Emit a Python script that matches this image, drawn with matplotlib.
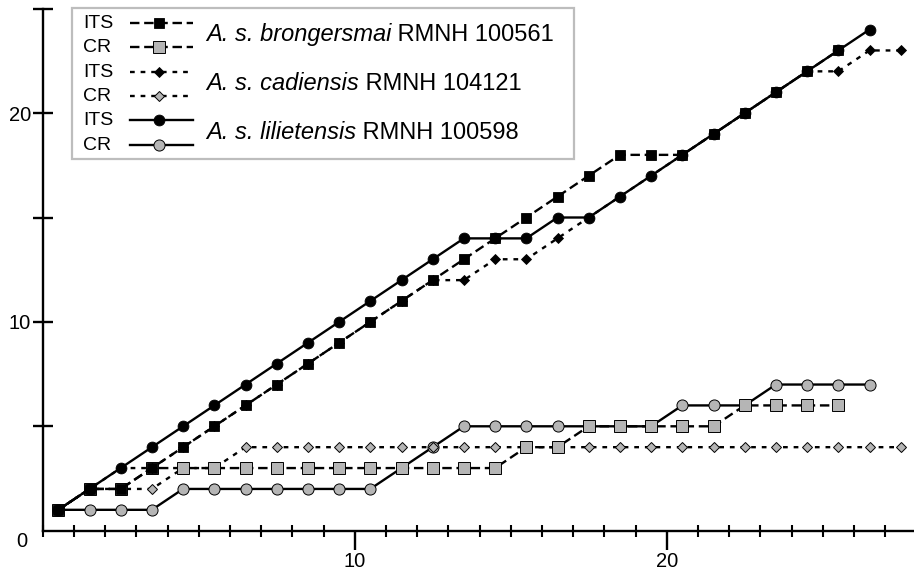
import matplotlib
matplotlib.use("Agg")
import matplotlib.pyplot as plt
from matplotlib.lines import Line2D
from matplotlib.patches import Rectangle
from matplotlib.transforms import ScaledTranslation

plt.rcParams["font.family"] = ["Liberation Sans", "DejaVu Sans"]

# values at positions 1..N (plotted at k - 0.5)
its_brongersmai = [1, 2, 2, 3, 4, 5, 6, 7, 8, 9, 10, 11, 12, 13, 14, 15, 16, 17, 18, 18, 18, 19, 20, 21, 22, 23]
cr_brongersmai = [1, 2, 2, 3, 3, 3, 3, 3, 3, 3, 3, 3, 3, 3, 3, 4, 4, 5, 5, 5, 5, 5, 6, 6, 6, 6]
its_cadiensis = [1, 2, 3, 3, 4, 5, 6, 7, 8, 9, 10, 11, 12, 12, 13, 13, 14, 15, 16, 17, 18, 19, 20, 21, 22, 22, 23, 23]
cr_cadiensis = [1, 2, 2, 2, 3, 3, 4, 4, 4, 4, 4, 4, 4, 4, 4, 4, 4, 4, 4, 4, 4, 4, 4, 4, 4, 4, 4, 4]
its_lilietensis = [1, 2, 3, 4, 5, 6, 7, 8, 9, 10, 11, 12, 13, 14, 14, 14, 15, 15, 16, 17, 18, 19, 20, 21, 22, 23, 24]
cr_lilietensis = [1, 1, 1, 1, 2, 2, 2, 2, 2, 2, 2, 3, 4, 5, 5, 5, 5, 5, 5, 5, 6, 6, 6, 7, 7, 7, 7]

species = [("A. s. brongersmai", " RMNH 100561"),
           ("A. s. cadiensis", " RMNH 104121"),
           ("A. s. lilietensis", " RMNH 100598")]

W, H = 914, 571
GRAY = "#b5b5b5"
DASH = (0, (4, 2))
DOT = (0, (2, 2.5))
LW = 1.7

styles = {
    "its_lil": dict(ls="-", marker="o", ms=7.8, mfc="k", mec="k", mew=0.6),
    "cr_lil": dict(ls="-", marker="o", ms=8.0, mfc=GRAY, mec="k", mew=0.7),
    "its_cad": dict(ls=DOT, marker="D", ms=5.4, mfc="k", mec="k", mew=0.6),
    "cr_cad": dict(ls=DOT, marker="D", ms=5.6, mfc=GRAY, mec="k", mew=0.7),
    "its_bro": dict(ls=DASH, marker="s", ms=7.8, mfc="k", mec="k", mew=0.6),
    "cr_bro": dict(ls=DASH, marker="s", ms=8.0, mfc=GRAY, mec="k", mew=0.7),
}

fig = plt.figure(figsize=(W / 100, H / 100), dpi=100)
ax = fig.add_axes([42.7 / W, 40.3 / H, 873.6 / W, 522 / H])


def xs(vals):
    return [k + 0.5 for k in range(len(vals))]


series = [("cr_lil", cr_lilietensis), ("cr_cad", cr_cadiensis), ("cr_bro", cr_brongersmai),
          ("its_lil", its_lilietensis), ("its_cad", its_cadiensis), ("its_bro", its_brongersmai)]
for z, (key, vals) in enumerate(series):
    ax.plot(xs(vals), vals, color="k", lw=LW, zorder=3 + z, clip_on=False, **styles[key])

ax.set_xlim(0, 28)
ax.set_ylim(0, 25)
for s in ("top", "right"):
    ax.spines[s].set_visible(False)
for s in ("left", "bottom"):
    ax.spines[s].set_linewidth(1.7)

ax.xaxis.set_major_locator(plt.FixedLocator([10, 20]))
ax.xaxis.set_minor_locator(plt.MultipleLocator(1))
ax.yaxis.set_major_locator(plt.FixedLocator([0, 10, 20]))
ax.yaxis.set_minor_locator(plt.FixedLocator([5, 15, 25]))
ax.tick_params(axis="x", which="major", direction="out", length=14, width=1.7, labelsize=14.5, pad=1)
ax.tick_params(axis="x", which="minor", direction="inout", length=9, width=1.5)
ax.tick_params(axis="y", which="both", direction="inout", length=14.5, width=1.7, labelsize=14.5, pad=1)
ax.yaxis.get_major_ticks()[0].tick1line.set_visible(False)
lab0 = ax.yaxis.get_major_ticks()[0].label1
lab0.set_transform(lab0.get_transform() + ScaledTranslation(-0.04, -0.09, fig.dpi_scale_trans))


# legend drawn in figure pixels
def fx(px):
    return px / W


def fy(py):
    return 1 - py / H


fig.add_artist(Rectangle((fx(72), fy(159)), fx(574) - fx(72), fy(8) - fy(159),
                         transform=fig.transFigure, fill=False, ec="#bdbdbd", lw=1.6, zorder=10))
rows = [("ITS", "its_bro"), ("CR", "cr_bro"), ("ITS", "its_cad"), ("CR", "cr_cad"),
        ("ITS", "its_lil"), ("CR", "cr_lil")]
row_y = [23, 47, 72, 96, 120, 145]
for (name, key), y in zip(rows, row_y):
    fig.text(fx(83), fy(y + 5), name, fontsize=14, va="baseline", ha="left")
    fig.add_artist(Line2D([fx(130), fx(159), fx(193)], [fy(y)] * 3, transform=fig.transFigure,
                          color="k", lw=LW, markevery=[1], **styles[key]))
for i, (italic, plain) in enumerate(species):
    yb = (row_y[2 * i] + row_y[2 * i + 1]) / 2 + 6
    t1 = fig.text(fx(206), fy(yb), italic, fontsize=17, style="italic", va="baseline", ha="left")
    ax.annotate(plain, xy=(1, 0), xycoords=t1, va="bottom", ha="left", fontsize=17,
                annotation_clip=False)

fig.savefig("out.png", dpi=100)
